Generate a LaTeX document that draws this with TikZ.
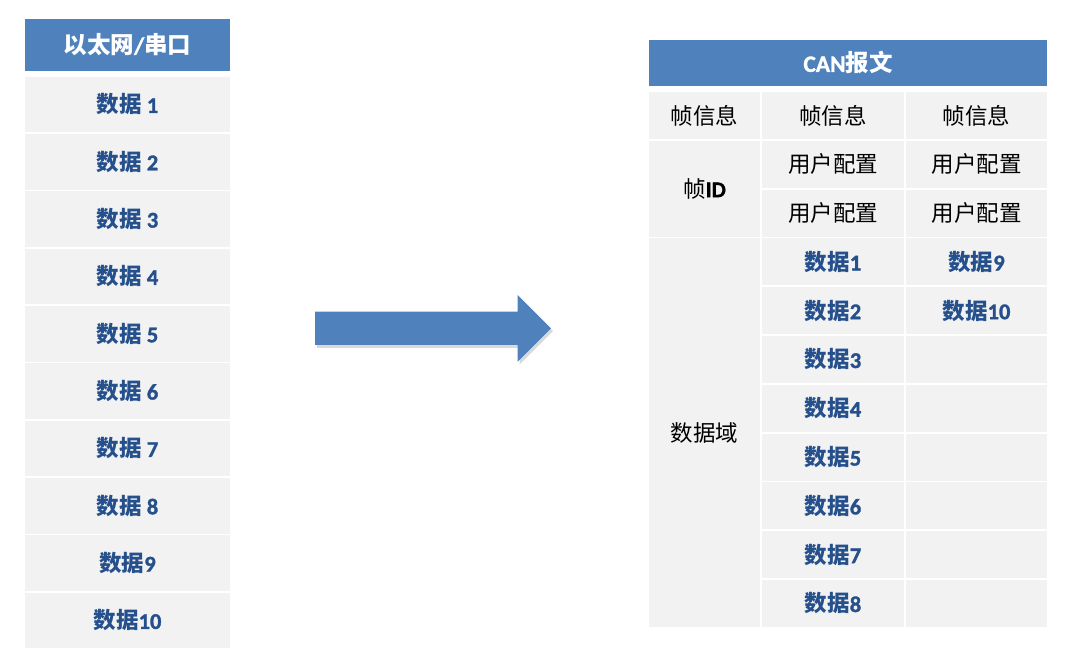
\documentclass[tikz,border=0pt]{standalone}
\usepackage{fontspec}
\setmainfont{Carlito}[BoldFeatures={FakeBold=1.3}]
\newfontfamily\cjk{Noto Sans CJK SC}
\newfontfamily\cjkm{Noto Sans CJK SC Medium}
\definecolor{hdrblue}{HTML}{4F81BD}
\definecolor{cellgray}{HTML}{F2F2F2}
\definecolor{txtblue}{HTML}{25508C}
\tikzset{
  cell/.style={fill=cellgray, inner sep=0pt, align=center, font=\fontsize{22.5}{26}\selectfont},
  hdr/.style={fill=hdrblue, inner sep=0pt, text=white, align=center, font=\fontsize{23.5}{27}\selectfont\bfseries},
  bluetxt/.style={text=txtblue, font=\fontsize{22.5}{26}\selectfont\bfseries},
  lcell/.style={cell, bluetxt, minimum width=205pt, minimum height=55.5pt},
  rowc/.style={cell, minimum height=47pt}
}
\begin{document}
\begin{tikzpicture}[x=1pt,y=-1pt]
\useasboundingbox (0,0) rectangle (1090,668);
% left column
\node[hdr, minimum width=205pt, minimum height=52pt] (lh) at (127.5,45) {{\cjkm 以太网}\textbf{/}{\cjkm 串口}};
\foreach \i/\t in {1/{\cjkm 数据} \textbf{1},2/{\cjkm 数据} \textbf{2},3/{\cjkm 数据} \textbf{3},4/{\cjkm 数据} \textbf{4},5/{\cjkm 数据} \textbf{5},6/{\cjkm 数据} \textbf{6},7/{\cjkm 数据} \textbf{7},8/{\cjkm 数据} \textbf{8},9/{\cjkm 数据}\textbf{9},10/{\cjkm 数据}\textbf{10}}{
  \node[lcell] (l\i) at (127.5,{104.45+(\i-1)*57.33}) {\t};
}
% arrow
\fill[black, opacity=0.15] (317,314.5) -- (519.7,314.5) -- (519.7,297.8) -- (553,331.1) -- (519.7,364.5) -- (519.7,347.8) -- (317,347.8) -- cycle;
\fill[hdrblue] (315,311.7) -- (517.7,311.7) -- (517.7,295) -- (551,328.3) -- (517.7,361.7) -- (517.7,345) -- (315,345) -- cycle;
% right table
\node[hdr, minimum width=398pt, minimum height=45.7pt] (rh) at (848,62.85) {\textbf{CAN}{\cjkm 报文}};
% row 1
\node[rowc, minimum width=111pt] (r1a) at (704.5,115.5) {\cjk 帧信息};
\node[rowc, minimum width=142pt] (r1b) at (833,115.5) {\cjk 帧信息};
\node[rowc, minimum width=141pt] (r1c) at (976.5,115.5) {\cjk 帧信息};
% frame ID
\node[cell, minimum width=111pt, minimum height=95.8pt] (fid) at (704.5,188.7) {{\cjk 帧}\textbf{ID}};
\node[rowc, minimum width=142pt] (r2b) at (833,{115.5+48.8}) {\cjk 用户配置};
\node[rowc, minimum width=141pt] (r2c) at (976.5,{115.5+48.8}) {\cjk 用户配置};
\node[rowc, minimum width=142pt] (r3b) at (833,{115.5+2*48.8}) {\cjk 用户配置};
\node[rowc, minimum width=141pt] (r3c) at (976.5,{115.5+2*48.8}) {\cjk 用户配置};
% data field
\node[cell, minimum width=111pt, minimum height=388.6pt] (dom) at (704.5,432.7) {\cjk 数据域};
\foreach \k in {1,...,8}{
  \node[rowc, bluetxt, minimum width=142pt] (d\k) at (833,{115.5+(\k+2)*48.8}) {{\cjkm 数据}\textbf{\k}};
}
\node[rowc, bluetxt, minimum width=141pt] (d9) at (976.5,{115.5+3*48.8}) {{\cjkm 数据}\textbf{9}};
\node[rowc, bluetxt, minimum width=141pt] (d10) at (976.5,{115.5+4*48.8}) {{\cjkm 数据}\textbf{10}};
\foreach \k in {5,...,10}{
  \node[rowc, minimum width=141pt] (e\k) at (976.5,{115.5+\k*48.8}) {};
}
\end{tikzpicture}
\end{document}
